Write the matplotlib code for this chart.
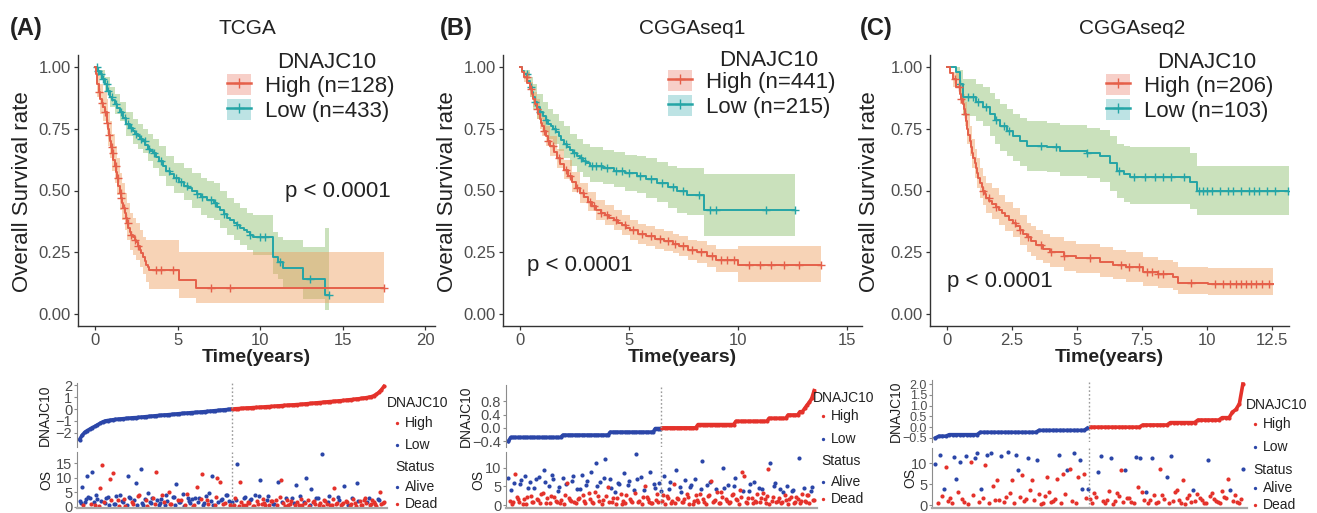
import numpy as np
import matplotlib
matplotlib.use("Agg")
import matplotlib.pyplot as plt
from matplotlib.lines import Line2D
from matplotlib.patches import Patch

plt.rcParams['font.family'] = ['Liberation Sans', 'DejaVu Sans']

# ---------------- Kaplan-Meier data (time in years) ----------------
# TCGA, high group: curve, confidence band, censored times
a_high_t = [0, 0.08, 0.15, 0.22, 0.3, 0.4, 0.5, 0.6, 0.7, 0.75, 0.8, 0.85, 0.9, 0.97, 1.05, 1.12, 1.2, 1.27, 1.35,
            1.42, 1.5, 1.57, 1.65, 1.72, 1.8, 1.87, 1.95, 2.02, 2.1, 2.2, 2.3, 2.4, 2.5, 2.6, 2.7, 2.8, 2.9,
            3.0, 3.1, 3.2, 3.3, 5.1, 6.1, 17.5]
a_high_s = [1, 0.97, 0.93, 0.90, 0.87, 0.855, 0.84, 0.82, 0.80, 0.775, 0.75, 0.725, 0.70, 0.675, 0.65, 0.625, 0.60,
            0.575, 0.55, 0.52, 0.49, 0.47, 0.45, 0.43, 0.41, 0.39, 0.37, 0.35, 0.33, 0.32, 0.31, 0.30, 0.29, 0.275,
            0.26, 0.245, 0.23, 0.215, 0.20, 0.19, 0.178, 0.138, 0.104, 0.104]
a_high_bt = [0, 0.15, 0.3, 0.5, 0.7, 0.8, 0.9, 1.05, 1.2, 1.35, 1.5, 1.65, 1.8, 1.95, 2.1, 2.3, 2.5, 2.7, 2.9, 3.1, 3.3, 5.1, 6.1, 17.5]
a_high_up = [1, 0.98, 0.93, 0.90, 0.87, 0.82, 0.78, 0.73, 0.68, 0.63, 0.57, 0.53, 0.49, 0.45, 0.41, 0.39, 0.37, 0.34, 0.31, 0.30, 0.30, 0.25, 0.25, 0.25]
a_high_lo = [1, 0.88, 0.81, 0.78, 0.73, 0.68, 0.63, 0.58, 0.53, 0.48, 0.42, 0.38, 0.34, 0.30, 0.26, 0.24, 0.22, 0.19, 0.16, 0.13, 0.10, 0.063, 0.043, 0.043]
a_high_cens = [0.25, 0.4, 0.6, 0.75, 0.85, 1.0, 1.1, 1.25, 1.4, 1.55, 1.6, 1.75, 1.9, 2.0, 2.2, 2.4, 2.6, 3.7, 4.0, 4.7, 7.0, 8.2, 17.5]

# TCGA, low group
a_low_t = [0, 0.15, 0.3, 0.45, 0.6, 0.75, 0.9, 1.05, 1.2, 1.35, 1.5, 1.7, 1.9, 2.1, 2.3, 2.45, 2.6, 2.75, 2.9, 3.05,
           3.2, 3.35, 3.5, 3.7, 3.9, 4.1, 4.3, 4.55, 4.8, 5.1, 5.4, 5.65, 5.9, 6.15, 6.4, 6.8, 7.2, 7.4, 7.6, 7.8,
           8.0, 8.2, 8.4, 8.6, 8.8, 9.0, 9.2, 9.4, 9.6, 10.8, 11.1, 11.4, 12.6, 13.95, 14.15]
a_low_s = [1, 0.985, 0.97, 0.95, 0.93, 0.905, 0.88, 0.865, 0.85, 0.835, 0.82, 0.795, 0.77, 0.755, 0.74, 0.73, 0.72,
           0.71, 0.70, 0.685, 0.67, 0.66, 0.65, 0.635, 0.62, 0.60, 0.58, 0.565, 0.55, 0.535, 0.52, 0.51, 0.50, 0.487,
           0.475, 0.46, 0.45, 0.435, 0.42, 0.405, 0.39, 0.38, 0.37, 0.36, 0.35, 0.34, 0.33, 0.32, 0.31, 0.23, 0.21,
           0.185, 0.14, 0.077, 0.077]
a_low_bt = [0, 0.3, 0.6, 0.9, 1.2, 1.5, 1.9, 2.3, 2.6, 2.9, 3.2, 3.5, 3.9, 4.3, 4.8, 5.4, 5.9, 6.4, 6.8, 7.2, 7.6, 8.0, 8.4, 8.8, 9.2, 9.6, 10.8, 11.1, 11.4, 12.6, 13.95, 14.15]
a_low_up = [1, 0.99, 0.96, 0.92, 0.89, 0.86, 0.82, 0.79, 0.77, 0.75, 0.73, 0.71, 0.68, 0.64, 0.61, 0.59, 0.57, 0.55, 0.54, 0.53, 0.50, 0.47, 0.45, 0.43, 0.41, 0.40, 0.33, 0.31, 0.30, 0.27, 0.35, 0.35]
a_low_lo = [1, 0.95, 0.90, 0.84, 0.81, 0.78, 0.72, 0.69, 0.67, 0.65, 0.62, 0.59, 0.56, 0.52, 0.49, 0.46, 0.43, 0.40, 0.39, 0.38, 0.35, 0.32, 0.30, 0.28, 0.26, 0.24, 0.16, 0.14, 0.11, 0.06, 0.016, 0.016]
a_low_cens = [0.1, 0.2, 0.35, 0.5, 0.7, 0.8, 1.0, 1.3, 1.6, 1.8, 2.0, 2.2, 2.5, 2.8, 3.0, 3.3, 3.6, 4.0, 4.5, 4.9, 5.2, 5.6, 6.2, 6.5, 7.0, 7.3, 7.8, 8.6, 9.4, 10.0, 10.3, 11.2, 13.0, 14.15]

# CGGAseq1, high group
b_high_t = [0, 0.1, 0.2, 0.33, 0.46, 0.53, 0.6, 0.68, 0.76, 0.83, 0.9, 0.95, 1.0, 1.1, 1.2, 1.29, 1.38, 1.54, 1.7,
            1.85, 2.0, 2.2, 2.4, 2.57, 2.75, 2.92, 3.1, 3.3, 3.5, 3.7, 3.9, 4.1, 4.3, 4.5, 4.7, 4.87, 5.05, 5.4,
            5.8, 6.2, 6.6, 7.0, 7.3, 7.7, 8.1, 8.6, 9.0, 10.0, 13.8]
b_high_s = [1, 0.98, 0.96, 0.935, 0.91, 0.89, 0.87, 0.85, 0.83, 0.81, 0.79, 0.775, 0.76, 0.74, 0.72, 0.70, 0.68,
            0.655, 0.63, 0.607, 0.585, 0.56, 0.535, 0.512, 0.49, 0.472, 0.455, 0.437, 0.42, 0.41, 0.40, 0.39, 0.38,
            0.37, 0.36, 0.35, 0.34, 0.325, 0.315, 0.305, 0.295, 0.285, 0.275, 0.26, 0.25, 0.235, 0.22, 0.197, 0.197]
b_high_bt = [0, 0.2, 0.46, 0.6, 0.76, 0.9, 1.0, 1.2, 1.38, 1.7, 2.0, 2.4, 2.75, 3.1, 3.5, 3.9, 4.3, 4.7, 5.05, 5.4, 5.8, 6.2, 6.6, 7.0, 7.3, 7.7, 8.1, 8.6, 9.0, 10.0, 13.8]
b_high_up = [1, 0.98, 0.94, 0.90, 0.87, 0.83, 0.80, 0.76, 0.72, 0.67, 0.625, 0.575, 0.53, 0.495, 0.46, 0.44, 0.42, 0.40, 0.38, 0.365, 0.355, 0.345, 0.335, 0.325, 0.315, 0.30, 0.295, 0.28, 0.265, 0.275, 0.275]
b_high_lo = [1, 0.94, 0.88, 0.84, 0.79, 0.75, 0.72, 0.68, 0.64, 0.59, 0.545, 0.495, 0.45, 0.415, 0.38, 0.36, 0.34, 0.32, 0.30, 0.285, 0.275, 0.265, 0.255, 0.245, 0.235, 0.22, 0.205, 0.19, 0.17, 0.13, 0.13]
b_high_cens = [0.3, 0.5, 0.8, 1.1, 1.3, 1.5, 1.8, 2.1, 2.3, 2.6, 2.9, 3.2, 3.4, 3.7, 4.0, 4.4, 4.8, 5.2, 5.6, 6.0, 6.4, 6.8, 7.1, 7.5, 7.9, 8.3, 8.8, 9.2, 9.5, 9.8, 10.5, 11.0, 11.5, 12.1, 12.8, 13.8]

# CGGAseq1, low group
b_low_t = [0, 0.1, 0.2, 0.33, 0.46, 0.53, 0.6, 0.68, 0.76, 0.9, 1.07, 1.2, 1.3, 1.42, 1.53, 1.66, 1.8, 1.9, 2.0,
           2.15, 2.3, 2.45, 2.6, 2.75, 2.9, 3.05, 3.2, 3.8, 4.3, 4.8, 5.35, 5.8, 6.3, 6.8, 7.2, 7.65, 8.45, 12.6]
b_low_s = [1, 0.985, 0.97, 0.945, 0.92, 0.90, 0.88, 0.86, 0.84, 0.82, 0.80, 0.785, 0.77, 0.76, 0.75, 0.735, 0.72,
           0.705, 0.69, 0.677, 0.665, 0.652, 0.64, 0.63, 0.62, 0.61, 0.60, 0.59, 0.58, 0.57, 0.56, 0.545, 0.53,
           0.515, 0.50, 0.48, 0.42, 0.42]
b_low_bt = [0, 0.2, 0.46, 0.6, 0.76, 1.07, 1.3, 1.53, 1.8, 2.0, 2.3, 2.6, 2.9, 3.2, 3.8, 4.3, 4.8, 5.35, 5.8, 6.3, 6.8, 7.2, 7.65, 8.45, 12.6]
b_low_up = [1, 0.99, 0.96, 0.93, 0.89, 0.86, 0.83, 0.81, 0.78, 0.76, 0.73, 0.71, 0.69, 0.675, 0.665, 0.655, 0.645, 0.64, 0.63, 0.615, 0.60, 0.59, 0.59, 0.565, 0.565]
b_low_lo = [1, 0.95, 0.88, 0.83, 0.79, 0.74, 0.71, 0.69, 0.66, 0.63, 0.60, 0.575, 0.555, 0.535, 0.525, 0.515, 0.50, 0.49, 0.47, 0.455, 0.43, 0.41, 0.40, 0.315, 0.315]
b_low_cens = [0.3, 0.5, 0.7, 0.9, 1.2, 1.6, 2.1, 2.5, 2.8, 3.0, 3.3, 3.5, 3.7, 4.0, 4.4, 4.7, 5.0, 5.5, 6.0, 6.5, 7.0, 7.5, 8.2, 8.7, 9.0, 11.3, 12.6]

# CGGAseq2, high group
c_high_t = [0, 0.12, 0.23, 0.36, 0.49, 0.55, 0.6, 0.64, 0.68, 0.73, 0.78, 0.82, 0.87, 0.92, 0.97, 1.02, 1.07, 1.12,
            1.17, 1.21, 1.26, 1.33, 1.4, 1.45, 1.51, 1.63, 1.75, 1.87, 2.0, 2.12, 2.25, 2.4, 2.54, 2.67, 2.8, 2.93,
            3.06, 3.25, 3.44, 3.7, 3.95, 4.5, 4.98, 5.88, 6.4, 6.9, 7.55, 8.1, 8.7, 8.9, 10.05, 12.55]
c_high_s = [1, 0.975, 0.95, 0.92, 0.89, 0.87, 0.85, 0.83, 0.81, 0.78, 0.75, 0.725, 0.70, 0.675, 0.65, 0.63, 0.61,
            0.59, 0.57, 0.55, 0.53, 0.515, 0.50, 0.485, 0.47, 0.457, 0.445, 0.432, 0.42, 0.407, 0.395, 0.382, 0.37,
            0.355, 0.34, 0.325, 0.31, 0.295, 0.28, 0.265, 0.25, 0.235, 0.225, 0.21, 0.20, 0.19, 0.17, 0.16, 0.15,
            0.127, 0.121, 0.121]
c_high_bt = [0, 0.23, 0.49, 0.6, 0.68, 0.78, 0.87, 0.97, 1.07, 1.17, 1.26, 1.4, 1.51, 1.75, 2.0, 2.25, 2.54, 2.8, 3.06, 3.25, 3.44, 3.7, 3.95, 4.5, 4.98, 5.88, 6.4, 6.9, 7.55, 8.1, 8.7, 8.9, 10.05, 12.55]
c_high_up = [1, 0.98, 0.93, 0.89, 0.86, 0.81, 0.76, 0.71, 0.67, 0.63, 0.59, 0.56, 0.53, 0.51, 0.48, 0.455, 0.43, 0.40, 0.37, 0.355, 0.34, 0.325, 0.31, 0.295, 0.285, 0.27, 0.26, 0.25, 0.23, 0.22, 0.21, 0.19, 0.185, 0.185]
c_high_lo = [1, 0.92, 0.85, 0.81, 0.76, 0.69, 0.64, 0.59, 0.55, 0.51, 0.47, 0.44, 0.41, 0.385, 0.36, 0.335, 0.31, 0.28, 0.25, 0.235, 0.22, 0.205, 0.19, 0.175, 0.165, 0.15, 0.14, 0.13, 0.115, 0.105, 0.095, 0.08, 0.077, 0.077]
c_high_cens = [0.3, 0.45, 0.55, 0.7, 1.4, 1.6, 1.9, 2.6, 2.8, 3.1, 3.6, 4.0, 4.5, 5.5, 6.7, 7.0, 7.4, 7.7, 7.9, 8.1, 8.3, 9.4, 10.3, 10.6, 10.9, 11.1, 11.3, 11.5, 11.7, 11.9, 12.1, 12.4]

# CGGAseq2, low group
c_low_t = [0, 0.36, 0.5, 0.62, 1.13, 1.4, 1.64, 1.85, 2.03, 2.3, 2.54, 2.8, 3.06, 3.83, 4.34, 5.37, 5.88, 6.26, 6.52, 6.8, 7.03, 9.35, 9.6, 13.15]
c_low_s = [1, 0.98, 0.93, 0.88, 0.86, 0.84, 0.81, 0.785, 0.76, 0.74, 0.72, 0.70, 0.68, 0.675, 0.66, 0.65, 0.64, 0.61, 0.58, 0.565, 0.555, 0.535, 0.50, 0.50]
c_low_bt = c_low_t
c_low_up = [1, 1.0, 0.99, 0.95, 0.93, 0.92, 0.895, 0.87, 0.85, 0.83, 0.81, 0.795, 0.78, 0.775, 0.765, 0.755, 0.745, 0.72, 0.69, 0.68, 0.675, 0.65, 0.60, 0.60]
c_low_lo = [1, 0.95, 0.87, 0.80, 0.78, 0.76, 0.72, 0.69, 0.66, 0.64, 0.62, 0.60, 0.58, 0.575, 0.56, 0.55, 0.535, 0.50, 0.47, 0.455, 0.445, 0.425, 0.40, 0.40]
c_low_cens = [0.5, 0.8, 1.0, 1.2, 1.5, 1.9, 2.2, 2.4, 3.6, 4.2, 5.4, 6.6, 7.2, 7.6, 8.0, 8.3, 8.6, 9.1, 9.7, 9.85, 10.0, 10.2, 10.5, 10.8, 11.0, 11.3, 11.6, 11.8, 12.0, 12.3, 12.6, 13.1]

# ---------------- risk plots: sorted expression, then OS (years) and status by rank ----------------
a_expr = [-2.55, -2.2, -1.95, -1.8, -1.68, -1.55, -1.45, -1.32, -1.2, -1.08, -1.0, -0.96, -0.93, -0.9, -0.87,
          -0.85, -0.83, -0.81, -0.79, -0.77, -0.75, -0.73, -0.72, -0.7, -0.68, -0.66, -0.64, -0.62, -0.6, -0.58,
          -0.56, -0.54, -0.52, -0.5, -0.49, -0.47, -0.45, -0.43, -0.41, -0.39, -0.37, -0.35, -0.34, -0.32, -0.3,
          -0.29, -0.27, -0.26, -0.24, -0.22, -0.2, -0.18, -0.16, -0.14, -0.12, -0.1, -0.08, -0.06, -0.04, -0.02,
          0.0, 0.02, 0.03, 0.05, 0.06, 0.08, 0.09, 0.1, 0.12, 0.13, 0.14, 0.16, 0.17, 0.19, 0.2,
          0.21, 0.23, 0.25, 0.26, 0.28, 0.3, 0.31, 0.33, 0.34, 0.35, 0.37, 0.38, 0.4, 0.42, 0.44,
          0.46, 0.48, 0.5, 0.52, 0.54, 0.56, 0.58, 0.6, 0.62, 0.63, 0.65, 0.67, 0.69, 0.71, 0.73,
          0.76, 0.78, 0.8, 0.83, 0.85, 0.88, 0.91, 0.94, 0.98, 1.02, 1.1, 1.22, 1.38, 1.6, 1.88]
a_os = [2.1, 1.3, 6.8, 0.5, 1.5, 2.6, 10.5, 3.4, 3.2, 0.9,
        11.9, 1.8, 0.6, 4.2, 2.8, 0.3, 6.6, 2.1, 14.4, 1.6,
        1.2, 3.0, 3.5, 0.7, 9.7, 2.4, 11.6, 1.1, 0.9, 3.7,
        2.4, 0.4, 4.1, 1.9, 1.7, 2.8, 0.4, 0.8, 10.5, 3.3,
        2.9, 1.5, 1.1, 2.2, 8.2, 0.6, 3.6, 4.0, 13.1, 1.2,
        0.7, 2.7, 2.2, 0.3, 4.6, 1.7, 1.4, 3.1, 3.0, 0.9,
        11.9, 2.5, 0.5, 1.4, 2.6, 3.9, 1.8, 0.6, 4.0, 2.0,
        5.1, 1.0, 0.9, 3.5, 3.3, 0.5, 7.7, 2.3, 1.6, 1.6,
        2.4, 4.4, 0.3, 0.8, 4.4, 2.9, 1.9, 1.3, 2.8, 0.4,
        0.6, 3.2, 6.8, 1.8, 3.1, 2.6, 11.4, 0.7, 1.2, 3.8,
        2.2, 1.1, 4.8, 2.1, 10.5, 0.5, 0.8, 3.4, 10.0, 1.5,
        8.5, 2.4, 2.7, 0.9, 1.3, 4.1, 3.9, 1.9, 0.5, 0.6,
        1.7, 0.8, 2.9, 2.3, 14.8, 0.4, 8.5, 1.6, 0.7, 3.1,
        3.4, 0.6, 1.5, 1.2, 2.2, 2.7, 0.4, 0.3, 4.2, 1.9,
        1.0, 3.6, 9.1, 0.9, 2.6, 1.4, 0.6, 2.5, 3.6, 0.5,
        1.9, 2.0, 0.9, 1.1, 2.4, 0.7, 8.5, 3.3, 9.1, 1.5,
        1.2, 0.4, 3.0, 2.2, 0.5, 1.0, 2.0, 2.9, 1.4, 0.6,
        7.4, 1.7, 0.8, 3.8, 2.7, 0.8, 1.6, 1.3, 10.0, 2.4,
        0.3, 0.5, 6.2, 1.8, 1.9, 0.9, 3.2, 3.0, 0.7, 1.2,
        18.2, 0.3, 2.3, 2.1, 1.1, 1.6, 3.8, 0.7, 0.6, 2.6,
        6.5, 1.0, 1.4, 3.4, 2.5, 0.5, 0.9, 1.4, 7.2, 2.0,
        1.8, 0.8, 0.4, 1.1, 2.9, 2.8, 1.3, 0.4, 8.2, 1.9,
        2.0, 0.6, 0.7, 2.3, 3.1, 1.3, 1.5, 3.2, 0.5, 0.9,
        2.4, 1.5, 1.0, 0.3, 2.8, 2.5, 5.1, 1.0, 1.2, 1.7]
a_status = ("AAADAAAAAD" "AADAADDADD" "AAAADDDAAA" "DDAAADDAAA" "ADDAAADDAA" "AADDAAAADD"
            "DAAAADDAAA" "DDDAAAADAA" "DAADDAAAAD" "DADAADDAAA" "DDAAAADDDA" "DAADDAAADD"
            "ADDAADDDDA" "ADDDAADDAD" "DAADDDDAAD" "DDAADDADDA" "DDADDDDAAD" "ADDADDADAD"
            "DAADDDAADD" "ADDDDAADDD" "DDDAADDDAD" "DADDADDDAA" "DDDDDDAADD" "DDDDAADDDD")

b_expr = [-0.41, -0.29, -0.29, -0.29, -0.29, -0.29, -0.29, -0.29, -0.29, -0.29, -0.29, -0.29, -0.29, -0.29, -0.29,
          -0.29, -0.29, -0.29, -0.29, -0.29, -0.29, -0.29, -0.29, -0.22, -0.22, -0.22, -0.22, -0.22, -0.22, -0.22,
          -0.22, -0.22, -0.22, -0.22, -0.22, -0.22, -0.22, -0.22, -0.22, -0.22, -0.22, -0.22, -0.22, -0.13, -0.13,
          -0.13, -0.13, -0.13, -0.13, -0.13, -0.13, -0.13, -0.13, -0.13, -0.13, -0.13, -0.13, -0.13, -0.13, -0.13,
          -0.13, -0.13, -0.02, -0.02, -0.02,
          0.0, 0.0, 0.0, 0.0, 0.0, 0.0, 0.0, 0.0, 0.0, 0.0, 0.0, 0.0, 0.0, 0.0, 0.0,
          0.1, 0.1, 0.1, 0.1, 0.1, 0.1, 0.1, 0.1, 0.1, 0.1, 0.1, 0.1, 0.1, 0.1, 0.1,
          0.1, 0.2, 0.2, 0.2, 0.2, 0.2, 0.2, 0.2, 0.2, 0.2, 0.2, 0.2, 0.2, 0.2, 0.2,
          0.29, 0.29, 0.29, 0.29, 0.29, 0.29, 0.29, 0.29, 0.39, 0.39, 0.39, 0.39, 0.39, 0.49, 0.49,
          0.59, 0.69, 0.78, 0.9, 1.13]
b_os = [7.2, 1.2, 4.1, 0.4, 0.8, 5.9, 8.5, 2.1, 1.5, 0.7,
        5.6, 6.8, 0.4, 1.6, 7.8, 0.3, 2.2, 4.7, 6.3, 2.5,
        0.9, 0.9, 4.5, 7.1, 1.6, 1.4, 7.6, 0.5, 3.0, 3.2,
        9.4, 6.2, 0.6, 1.8, 5.2, 0.6, 2.4, 8.0, 6.9, 2.3,
        1.1, 0.8, 3.8, 4.9, 0.5, 1.3, 7.4, 0.4, 2.8, 5.6,
        5.9, 2.0, 1.3, 1.0, 6.6, 7.7, 0.7, 0.6, 4.3, 1.7,
        2.0, 4.2, 8.2, 2.8, 1.0, 0.5, 5.4, 6.6, 3.3, 1.5,
        9.0, 0.9, 0.6, 3.6, 11.2, 5.1, 2.5, 1.1, 6.1, 0.3,
        1.4, 7.3, 12.5, 2.4, 4.8, 0.7, 7.0, 4.5, 0.9, 1.9,
        3.6, 0.4, 1.8, 6.0, 5.7, 2.9, 0.4, 1.2, 8.7, 0.6,
        2.6, 5.3, 6.4, 1.6, 1.2, 0.8, 4.0, 3.3, 13.8, 6.9,
        0.8, 1.0, 7.5, 0.3, 2.1, 4.1, 5.0, 2.2, 1.5, 0.9,
        8.9, 0.5, 0.5, 5.7, 4.6, 1.4, 3.1, 0.7, 6.0, 3.9,
        1.0, 2.6, 7.9, 0.4, 2.4, 1.8, 4.4, 6.3, 0.6, 1.1,
        5.8, 0.6, 9.4, 2.0, 1.7, 4.8, 3.5, 0.9, 0.9, 1.5,
        6.8, 3.0, 2.2, 0.4, 4.9, 5.4, 0.4, 1.2, 7.1, 2.7,
        1.3, 0.7, 3.0, 4.3, 11.9, 1.7, 0.7, 0.3, 5.5, 2.4,
        2.7, 6.1, 6.5, 0.9, 1.1, 1.3, 4.2, 3.5, 0.5, 0.5,
        3.4, 2.1, 10.0, 4.6, 1.6, 1.0, 5.3, 0.6, 0.8, 2.8,
        2.9, 5.0, 7.3, 1.6, 1.4, 0.4, 4.0, 2.3, 8.9, 3.8,
        7.8, 0.8, 0.6, 1.9, 3.7, 5.6, 2.0, 0.5, 6.2, 1.2,
        0.9, 3.1, 4.7, 0.7, 1.8, 4.4, 3.2, 1.5, 0.5, 2.5,
        9.8, 0.3, 11.2, 1.1, 2.3, 5.2, 6.0, 0.9, 1.0, 2.0,
        4.4, 0.6, 0.7, 3.4, 2.6, 1.4, 5.1, 0.4, 1.5, 2.2,
        3.9, 4.0, 0.6, 0.8, 2.1, 1.7, 12.7, 0.5, 1.2, 3.0,
        4.6, 1.0, 0.8, 2.6, 2.7, 0.6, 3.8, 4.9, 1.3, 1.3]
b_status = ("ADADDADDDD" "AADDADDAAD" "DDAADDADDD" "AADDADDAAD" "DDAADDADDA" "DDDDAADDAD"
            "DAADDDAADD" "ADDDAADDAD" "DAADDDAADD" "ADDAADDDAD" "DAADDDADAA" "DDADDADDDD"
            "ADDAADDDAA" "DDADDDAADD" "DDADDAADDD" "ADDDAADDAD" "DDDAADDDAD" "DADDDDADDD"
            "DDAADDADDD" "DAADDDDDDA" "DDDDAADDAD" "DDADDADDDD" "DDADDAADDD" "ADDADDADDD"
            "AADDDDADDD" "ADDDDDAADD")

c_expr = [-0.5, -0.42, -0.42, -0.42, -0.35, -0.35, -0.35, -0.35, -0.35, -0.35, -0.35, -0.35, -0.35, -0.24, -0.24,
          -0.24, -0.24, -0.24, -0.24, -0.24, -0.24, -0.24, -0.24, -0.24, -0.24, -0.24, -0.24, -0.24, -0.24, -0.24,
          -0.15, -0.15, -0.15, -0.15, -0.15, -0.15, -0.15, -0.15, -0.15, -0.15, -0.15, -0.15, -0.15, -0.15, -0.05,
          0.0, 0.0, 0.0, 0.0, 0.0, 0.0, 0.0, 0.0, 0.0, 0.0, 0.0, 0.0, 0.0, 0.0, 0.0,
          0.1, 0.1, 0.1, 0.1, 0.1, 0.1, 0.1, 0.1, 0.21, 0.21, 0.21, 0.21, 0.21, 0.21, 0.21,
          0.21, 0.33, 0.33, 0.33, 0.33, 0.33, 0.33, 0.33, 0.44, 0.44, 0.44, 0.7, 0.82, 1.09, 2.0]
c_os = [9.8, 0.4, 11.9, 2.1, 3.8, 9.1, 1.0, 1.8, 0.6, 11.5,
        6.3, 3.2, 10.3, 1.5, 0.8, 11.7, 0.3, 10.3, 2.4, 11.3,
        12.3, 0.8, 3.8, 1.7, 9.5, 11.9, 0.5, 12.3, 4.6, 1.2,
        6.0, 1.2, 11.7, 0.7, 2.0, 12.7, 2.9, 6.0, 0.4, 11.9,
        8.3, 1.9, 7.1, 0.9, 1.5, 11.3, 3.5, 6.0, 1.1, 10.8,
        2.6, 0.3, 0.6, 2.2, 6.7, 3.1, 0.8, 1.0, 1.4, 6.3,
        11.9, 0.5, 7.5, 2.6, 8.3, 8.7, 1.0, 12.3, 0.4, 6.7,
        10.7, 3.9, 7.5, 1.6, 3.8, 1.4, 0.6, 2.8, 2.0, 7.9,
        11.7, 0.9, 0.5, 1.3, 3.3, 11.3, 0.3, 0.9, 2.8, 2.2,
        8.3, 0.7, 8.3, 1.8, 1.6, 0.7, 0.5, 11.5, 4.2, 11.1,
        3.0, 1.1, 3.2, 0.4, 1.2, 11.1, 2.3, 0.6, 0.8, 8.7,
        2.4, 1.5, 6.7, 0.6, 11.7, 1.0, 3.0, 3.5, 1.2, 0.5,
        5.9, 0.3, 1.8, 2.5, 0.8, 3.7, 0.9, 2.7, 1.6, 1.1,
        0.6, 0.5, 10.7, 2.1, 2.9, 1.4, 1.0, 0.7, 0.4, 3.3,
        1.9, 1.8, 6.3, 3.6, 0.9, 2.3, 0.7, 0.5, 1.4, 8.5]
c_status = ("ADADADDDDA" "ADADDADDDA" "ADADDADADD" "DDADDADDDA" "ADDDDADDDA" "DDDDDDDDDD"
            "ADDDADDADD" "AADDADDDDA" "ADDDDADDDD" "DDADDDDADA" "DDADDADDDD" "DDADADDDDD"
            "DDDDDADDDD" "DDADDDDDDD" "DDDADDDDDA")

# ---------------- styling ----------------
W, H = 1317, 513
HIGH, LOW = '#E5604A', '#25A5A6'
HIGH_BAND, LOW_BAND = '#EE9E5E', '#8BBE6C'
RED, BLUE = '#E4322B', '#2B46A8'
TXT = '#222222'
TICK = '#4D4D4D'

fig = plt.figure(figsize=(W / 100, H / 100), dpi=100)


def fxy(x, y):
    return (x / W, 1 - y / H)


def add_ax(left, top, right, bottom):
    return fig.add_axes([left / W, 1 - bottom / H, (right - left) / W, (bottom - top) / H])


def step_at(t, s, q):
    idx = np.searchsorted(t, q, side='right') - 1
    return np.asarray(s)[idx]


def draw_curve(ax, t, s, bt, lo, up, cens, color, band):
    ax.fill_between(bt, lo, up, step='post', color=band, alpha=0.45, lw=0)
    ax.step(t, s, where='post', color=color, lw=1.4)
    ax.plot(cens, step_at(t, s, cens), ls='none', marker='+', ms=6, mew=1.0, color=color)


def km_panel(left, right, curves, xlim, xticks, xticklabels, title, title_x, letter, letter_x,
             labels, key_xy, key_title_xy, p_xy, ylab_x):
    ax = add_ax(left, 55, right, 326)
    # low group first, so the high-group band tints the low curve where they overlap
    for c in curves:
        draw_curve(ax, *c)
    ax.set_xlim(*xlim)
    ax.set_ylim(-0.049, 1.049)
    ax.set_xticks(xticks)
    ax.set_xticklabels(xticklabels)
    ax.set_yticks([0, 0.25, 0.5, 0.75, 1.0])
    ax.set_yticklabels(['0.00', '0.25', '0.50', '0.75', '1.00'])
    for sp in ['top', 'right']:
        ax.spines[sp].set_visible(False)
    for sp in ['left', 'bottom']:
        ax.spines[sp].set_color('#333333')
        ax.spines[sp].set_linewidth(1.0)
    ax.tick_params(labelsize=12, colors='#333333', labelcolor=TICK, length=3, width=0.9, pad=2)
    ax.set_xlabel('Time(years)', fontsize=14, fontweight='bold', color=TXT, labelpad=1)
    ax.set_ylabel('Overall Survival rate', fontsize=16, color=TXT)
    ax.yaxis.set_label_coords(*fxy(ylab_x, 192), transform=fig.transFigure)

    handles = [(Patch(facecolor=HIGH, alpha=0.3, edgecolor='none'),
                Line2D([], [], color=HIGH, lw=1.8, marker='+', ms=7, mew=1)),
               (Patch(facecolor=LOW, alpha=0.3, edgecolor='none'),
                Line2D([], [], color=LOW, lw=1.8, marker='+', ms=7, mew=1))]
    leg = ax.legend(handles, labels, loc='upper left',
                    bbox_to_anchor=fxy(*key_xy), bbox_transform=fig.transFigure,
                    frameon=False, fontsize=16, handlelength=1.1, handleheight=1.05,
                    labelspacing=0.1, handletextpad=0.6, borderpad=0, borderaxespad=0)
    for txt in leg.get_texts():
        txt.set_color(TXT)
    fig.text(*fxy(*key_title_xy), 'DNAJC10', fontsize=16, color=TXT, ha='center', va='center')

    fig.text(*fxy(*p_xy), 'p < 0.0001', fontsize=16, color=TXT, va='center', ha='left')
    fig.text(*fxy(title_x, 29), title, fontsize=15, color=TXT, ha='center', va='center')
    fig.text(*fxy(letter_x, 29), letter, fontsize=17, fontweight='bold', color=TXT,
             ha='left', va='center')
    return ax


def risk_panel(left, right, e_top, e_bot, o_top, expr, os_, status, e_lim, e_ticks, e_labels,
               e_tick_size, o_lim, o_ticks, e_lab_x, o_lab_x, leg):
    n = len(expr)
    idx = np.arange(n)
    half = n // 2
    split = half - 0.5
    xl = (-1.0, n + 0.2)

    axe = add_ax(left, e_top, right, e_bot)
    axe.plot(idx[:half], expr[:half], color=BLUE, lw=2.6, marker='o', ms=3.0, mew=0)
    axe.plot(idx[half:], expr[half:], color=RED, lw=2.6, marker='o', ms=3.0, mew=0)
    axe.axvline(split, color='#9A9A9A', ls=(0, (1.2, 1.6)), lw=1.0)
    axe.set_xlim(*xl)
    axe.set_ylim(*e_lim)
    axe.set_yticks(e_ticks)
    axe.set_yticklabels(e_labels)
    axe.set_xticks([])
    for sp in ['top', 'right', 'bottom']:
        axe.spines[sp].set_visible(False)
    axe.spines['left'].set_color('#8C8C8C')
    axe.tick_params(labelsize=e_tick_size, colors='#8C8C8C', labelcolor=TICK, length=2.5, pad=1)
    axe.set_ylabel('DNAJC10', fontsize=10, color=TXT)
    axe.yaxis.set_label_coords(*fxy(e_lab_x, (e_top + e_bot) / 2), transform=fig.transFigure)

    # OS points share the rank axis of the expression curve
    axo = add_ax(left, o_top, right, 508)
    pos = np.linspace(0, n - 1, len(os_))
    alive = np.array([c == 'A' for c in status])
    os_arr = np.asarray(os_)
    axo.scatter(pos[alive], os_arr[alive], s=9, color=BLUE, lw=0)
    axo.scatter(pos[~alive], os_arr[~alive], s=9, color=RED, lw=0)
    axo.axvline(split, color='#9A9A9A', ls=(0, (1.2, 1.6)), lw=1.0)
    axo.set_xlim(*xl)
    axo.set_ylim(*o_lim)
    axo.set_yticks(o_ticks)
    axo.set_xticks([])
    for sp in ['top', 'right']:
        axo.spines[sp].set_visible(False)
    axo.spines['left'].set_color('#8C8C8C')
    axo.spines['bottom'].set_color('#A8A8A8')
    axo.spines['bottom'].set_linewidth(1.6)
    axo.tick_params(labelsize=10.5, colors='#8C8C8C', labelcolor=TICK, length=2.5, pad=1)
    axo.set_ylabel('OS', fontsize=10, color=TXT)
    axo.yaxis.set_label_coords(*fxy(o_lab_x, (o_top + 508) / 2), transform=fig.transFigure)

    # group and status keys to the right of the risk plots
    (tx, ty), (dx, rows) = leg
    fig.text(*fxy(tx, ty), 'DNAJC10', fontsize=10, color=TXT, ha='left', va='center')
    fig.text(*fxy(dx - 2, rows[2]), 'Status', fontsize=10, color=TXT, ha='left', va='center')
    for y, lab, col in [(rows[0], 'High', RED), (rows[1], 'Low', BLUE),
                        (rows[3], 'Alive', BLUE), (rows[4], 'Dead', RED)]:
        fig.add_artist(Line2D([dx / W], [1 - y / H], marker='o', ms=2.4, mew=0, color=col,
                              transform=fig.transFigure))
        fig.text(*fxy(dx + 8, y), lab, fontsize=10, color=TXT, ha='left', va='center')


# ---------------- panels ----------------
km_panel(78, 435,
         [(a_low_t, a_low_s, a_low_bt, a_low_lo, a_low_up, a_low_cens, LOW, LOW_BAND),
          (a_high_t, a_high_s, a_high_bt, a_high_lo, a_high_up, a_high_cens, HIGH, HIGH_BAND)],
         (-1.03, 20.6), [0, 5, 10, 15, 20], ['0', '5', '10', '15', '20'],
         'TCGA', 247, '(A)', 10, ['High (n=128)', 'Low (n=433)'], (227, 74), (327, 62), (285, 192), 33)
km_panel(503, 862,
         [(b_low_t, b_low_s, b_low_bt, b_low_lo, b_low_up, b_low_cens, LOW, LOW_BAND),
          (b_high_t, b_high_s, b_high_bt, b_high_lo, b_high_up, b_high_cens, HIGH, HIGH_BAND)],
         (-0.78, 15.69), [0, 5, 10, 15], ['0', '5', '10', '15'],
         'CGGAseq1', 692, '(B)', 440, ['High (n=441)', 'Low (n=215)'], (668, 70), (769, 60), (527, 265), 458)
km_panel(930, 1289,
         [(c_low_t, c_low_s, c_low_bt, c_low_lo, c_low_up, c_low_cens, LOW, LOW_BAND),
          (c_high_t, c_high_s, c_high_bt, c_high_lo, c_high_up, c_high_cens, HIGH, HIGH_BAND)],
         (-0.65, 13.15), [0, 2.5, 5, 7.5, 10, 12.5], ['0', '2.5', '5', '7.5', '10', '12.5'],
         'CGGAseq2', 1132, '(C)', 860, ['High (n=206)', 'Low (n=103)'], (1106, 74), (1207, 63), (947, 282), 880)

risk_panel(77, 387, 383, 447, 452, a_expr, a_os, a_status, (-3.17, 2.17), [-2, -1, 0, 1, 2],
           ['\u22122', '\u22121', '0', '1', '2'], 10.5, (-0.4, 18.8), [0, 5, 10, 15], 52, 53,
           ((387, 403), (397, [423, 445, 467, 487, 504])))
risk_panel(506, 817, 385, 447, 452, b_expr, b_os, b_status, (-0.58, 1.3), [-0.4, 0.0, 0.4, 0.8],
           ['\u22120.4', '0.0', '0.4', '0.8'], 10.5, (-0.8, 14.3), [0, 5, 10], 473, 485,
           ((813, 398), (823, [416, 439, 461, 482, 499])))
risk_panel(932, 1247, 380, 442, 448, c_expr, c_os, c_status, (-0.69, 2.19),
           [-0.5, 0.0, 0.5, 1.0, 1.5, 2.0], ['\u22120.5', '0.0', '0.5', '1.0', '1.5', '2.0'], 9,
           (-0.7, 13.6), [0, 5, 10], 903, 917,
           ((1246, 405), (1255, [424, 447, 470, 488, 505])))

fig.savefig('out.png', dpi=100)
